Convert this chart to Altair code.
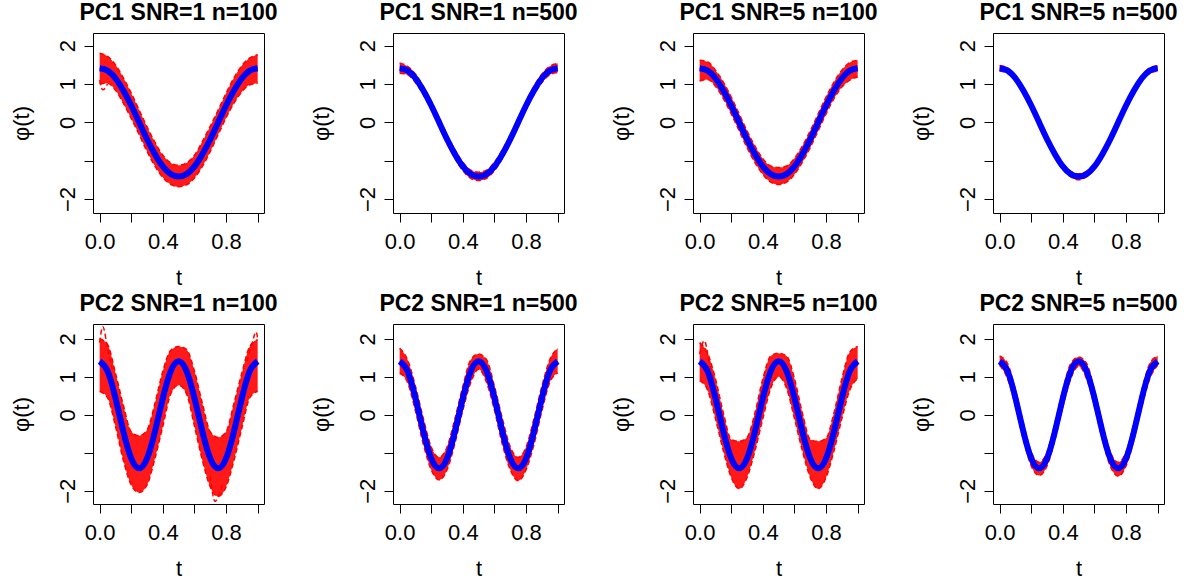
import altair as alt
import pandas as pd

# ---------------- data ----------------
t_grid = [0.0, 0.05, 0.1, 0.15, 0.2, 0.25, 0.3, 0.35, 0.4, 0.45, 0.5,
          0.55, 0.6, 0.65, 0.7, 0.75, 0.8, 0.85, 0.9, 0.95, 1.0]

# true eigenfunctions (blue)
truth_pc1 = [1.41, 1.35, 1.15, 0.83, 0.44, 0.00, -0.44, -0.83, -1.15, -1.35, -1.41,
             -1.35, -1.15, -0.83, -0.44, 0.00, 0.44, 0.83, 1.15, 1.35, 1.41]
truth_pc2 = [1.41, 1.15, 0.44, -0.44, -1.15, -1.41, -1.15, -0.44, 0.44, 1.15, 1.41,
             1.15, 0.44, -0.44, -1.15, -1.41, -1.15, -0.44, 0.44, 1.15, 1.41]

titles = ["PC1 SNR=1 n=100", "PC1 SNR=1 n=500", "PC1 SNR=5 n=100", "PC1 SNR=5 n=500",
          "PC2 SNR=1 n=100", "PC2 SNR=1 n=500", "PC2 SNR=5 n=100", "PC2 SNR=5 n=500"]

# spread of the estimated curves (red): upper / lower envelopes
hi_p1 = [1.80, 1.72, 1.50, 1.16, 0.76, 0.32, -0.12, -0.52, -0.86, -1.06, -1.12,
         -1.06, -0.86, -0.50, -0.10, 0.32, 0.76, 1.16, 1.48, 1.68, 1.76]
lo_p1 = [1.00, 1.02, 0.84, 0.50, 0.10, -0.32, -0.76, -1.14, -1.44, -1.62, -1.68,
         -1.63, -1.45, -1.15, -0.76, -0.32, 0.12, 0.50, 0.80, 0.98, 1.02]
hi_p2 = [1.55, 1.46, 1.26, 0.94, 0.55, 0.11, -0.33, -0.72, -1.04, -1.25, -1.30,
         -1.25, -1.04, -0.72, -0.33, 0.11, 0.55, 0.94, 1.26, 1.46, 1.54]
lo_p2 = [1.28, 1.24, 1.04, 0.72, 0.33, -0.11, -0.55, -0.94, -1.26, -1.46, -1.52,
         -1.46, -1.26, -0.94, -0.55, -0.11, 0.33, 0.72, 1.04, 1.24, 1.30]
hi_p3 = [1.62, 1.58, 1.36, 1.05, 0.66, 0.22, -0.22, -0.62, -0.95, -1.14, -1.18,
         -1.14, -0.94, -0.62, -0.22, 0.22, 0.66, 1.05, 1.36, 1.56, 1.62]
lo_p3 = [1.08, 1.12, 0.94, 0.62, 0.22, -0.22, -0.66, -1.05, -1.36, -1.56, -1.62,
         -1.56, -1.36, -1.04, -0.66, -0.22, 0.22, 0.62, 0.92, 1.10, 1.18]
hi_p4 = [1.48, 1.42, 1.22, 0.90, 0.51, 0.07, -0.37, -0.76, -1.08, -1.28, -1.34,
         -1.28, -1.08, -0.76, -0.37, 0.07, 0.51, 0.90, 1.22, 1.42, 1.48]
lo_p4 = [1.34, 1.28, 1.08, 0.76, 0.37, -0.07, -0.51, -0.90, -1.22, -1.42, -1.50,
         -1.42, -1.22, -0.90, -0.51, -0.07, 0.37, 0.76, 1.08, 1.28, 1.34]
hi_p5 = [2.00, 1.85, 1.10, 0.25, -0.45, -0.55, -0.40, 0.30, 1.15, 1.70, 1.80,
         1.72, 1.15, 0.30, -0.45, -0.60, -0.45, 0.30, 1.10, 1.80, 1.98]
lo_p5 = [0.62, 0.45, -0.30, -1.20, -1.85, -2.05, -1.85, -1.15, -0.30, 0.55, 0.78,
         0.55, -0.30, -1.20, -1.90, -2.15, -1.90, -1.20, -0.35, 0.45, 0.62]
hi_p6 = [1.75, 1.45, 0.75, -0.10, -0.85, -1.12, -0.85, -0.10, 0.75, 1.45, 1.60,
         1.45, 0.75, -0.10, -0.85, -1.12, -0.85, -0.10, 0.75, 1.45, 1.75]
lo_p6 = [1.10, 0.85, 0.10, -0.78, -1.45, -1.72, -1.45, -0.75, 0.12, 0.85, 1.20,
         0.85, 0.12, -0.78, -1.45, -1.74, -1.45, -0.78, 0.10, 0.85, 1.10]
hi_p7 = [1.90, 1.62, 0.95, 0.05, -0.65, -0.70, -0.60, 0.05, 0.95, 1.55, 1.62,
         1.55, 0.95, 0.05, -0.65, -0.70, -0.62, 0.05, 0.95, 1.65, 1.80]
lo_p7 = [0.90, 0.65, -0.10, -0.95, -1.65, -1.95, -1.65, -0.95, -0.10, 0.70, 1.00,
         0.70, -0.10, -0.95, -1.65, -1.95, -1.65, -0.95, -0.10, 0.65, 0.95]
hi_p8 = [1.55, 1.35, 0.65, -0.22, -0.98, -1.25, -0.98, -0.22, 0.65, 1.35, 1.52,
         1.35, 0.65, -0.22, -0.98, -1.25, -0.98, -0.22, 0.65, 1.35, 1.55]
lo_p8 = [1.30, 0.95, 0.22, -0.65, -1.35, -1.60, -1.35, -0.65, 0.22, 0.95, 1.28,
         0.95, 0.22, -0.65, -1.35, -1.62, -1.35, -0.65, 0.22, 0.95, 1.30]

# a few stray estimated curves poking out of the band (panel index, curve id, t, value)
stray_panel = [4, 4, 4, 4, 4, 4, 4, 4, 4, 4, 4, 4, 6, 6, 6, 6, 0, 0, 0]
stray_id = [1, 1, 1, 1, 2, 2, 2, 2, 3, 3, 3, 3, 4, 4, 4, 4, 5, 5, 5]
stray_t = [0.0, 0.02, 0.05, 0.08, 0.70, 0.73, 0.75, 0.78, 0.93, 0.96, 0.99, 1.0,
           0.0, 0.03, 0.06, 0.09, 0.0, 0.02, 0.05]
stray_v = [1.90, 2.32, 1.75, 1.20, -1.60, -2.28, -2.15, -1.80, 1.40, 1.80, 2.18, 2.00,
           1.60, 1.95, 1.40, 0.90, 1.10, 0.85, 1.00]

x_ticks = [0.0, 0.2, 0.4, 0.6, 0.8, 1.0]
y_ticks = [-2, -1, 0, 1, 2]
x_domain = [-0.042, 1.04]
y_domain_row1 = [-2.365, 2.33]
y_domain_row2 = [-2.35, 2.39]

W, H = 171, 180
FONT = "Liberation Sans"

x_label_expr = ("abs(datum.value) < 0.001 ? '0.0' : (abs(datum.value - 0.4) < 0.001 ? '0.4' : "
                "(abs(datum.value - 0.8) < 0.001 ? '0.8' : ''))")
y_label_expr = ("datum.value == -1 ? '' : (datum.value < 0 ? '\u2212' + abs(datum.value) : '' + datum.value)")


def x_enc(field="t:Q"):
    return alt.X(
        field,
        scale=alt.Scale(domain=x_domain, nice=False, zero=False),
        axis=alt.Axis(values=x_ticks, labelExpr=x_label_expr, title="t",
                      grid=False, domain=False, tickSize=9, tickColor="black",
                      tickWidth=1, labelFont=FONT, labelFontSize=22, labelColor="black",
                      labelPadding=9, labelOverlap=False, labelFlush=False,
                      titleFont=FONT, titleFontSize=22, titleFontWeight="normal",
                      titleColor="black", titleX=W / 2, titleY=71,
                      titleAlign="center", titleBaseline="alphabetic"),
    )


def y_enc(field, ydom):
    return alt.Y(
        field,
        scale=alt.Scale(domain=ydom, nice=False, zero=False),
        axis=alt.Axis(values=y_ticks, labelExpr=y_label_expr, title="\u03c6(t)",
                      grid=False, domain=False, tickSize=9, tickColor="black",
                      tickWidth=1, labelFont=FONT, labelFontSize=22, labelColor="black",
                      labelAngle=270, labelAlign="center", labelBaseline="alphabetic",
                      labelPadding=10, labelOverlap=False, labelFlush=False,
                      titleFont=FONT, titleFontSize=22, titleFontWeight="normal",
                      titleColor="black", titleAngle=270, titleX=-65, titleY=H / 2,
                      titleAlign="center", titleBaseline="alphabetic"),
    )


stray_df = pd.DataFrame({"panel": stray_panel, "cid": stray_id, "st": stray_t, "sv": stray_v})


def panel(idx, title, truth, lo, hi, ydom):
    df = pd.DataFrame({"t": t_grid, "truth": truth, "lo": lo, "hi": hi})
    base = alt.Chart(df)
    band = base.mark_area(color="red", opacity=0.9, interpolate="monotone").encode(
        x=x_enc(), y=y_enc("lo:Q", ydom), y2="hi:Q")
    upper = base.mark_line(color="red", strokeDash=[5, 3], strokeWidth=1.5,
                           interpolate="monotone").encode(x=x_enc(), y=y_enc("hi:Q", ydom))
    lower = base.mark_line(color="red", strokeDash=[5, 3], strokeWidth=1.5,
                           interpolate="monotone").encode(x=x_enc(), y=y_enc("lo:Q", ydom))
    layers = [band, upper, lower]
    sub = stray_df[stray_df["panel"] == idx]
    if len(sub):
        stray = alt.Chart(sub).mark_line(color="red", strokeDash=[5, 3], strokeWidth=1.5,
                                         interpolate="monotone", clip=True).encode(
            x=x_enc("st:Q"), y=y_enc("sv:Q", ydom), detail="cid:N")
        layers.append(stray)
    blue = base.mark_line(color="blue", strokeWidth=6, interpolate="natural").encode(
        x=x_enc(), y=y_enc("truth:Q", ydom))
    layers.append(blue)
    return alt.layer(*layers).properties(
        width=W, height=H,
        title=alt.TitleParams(title, font=FONT, fontSize=23, fontWeight="bold",
                              color="black", anchor="middle", offset=-10,
                              baseline="alphabetic", frame="group"),
    )


panels = [
    panel(0, titles[0], truth_pc1, lo_p1, hi_p1, y_domain_row1),
    panel(1, titles[1], truth_pc1, lo_p2, hi_p2, y_domain_row1),
    panel(2, titles[2], truth_pc1, lo_p3, hi_p3, y_domain_row1),
    panel(3, titles[3], truth_pc1, lo_p4, hi_p4, y_domain_row1),
    panel(4, titles[4], truth_pc2, lo_p5, hi_p5, y_domain_row2),
    panel(5, titles[5], truth_pc2, lo_p6, hi_p6, y_domain_row2),
    panel(6, titles[6], truth_pc2, lo_p7, hi_p7, y_domain_row2),
    panel(7, titles[7], truth_pc2, lo_p8, hi_p8, y_domain_row2),
]

chart = alt.concat(
    *panels, columns=4, spacing={"row": 111, "column": 129}, bounds="flush",
).properties(
    padding={"left": 9, "top": 1, "right": 0, "bottom": 0},
    background="white",
).configure_view(
    stroke="black", strokeWidth=1, fill="white"
)

chart.save("out.html", embed_options={"renderer": "svg", "actions": False})
